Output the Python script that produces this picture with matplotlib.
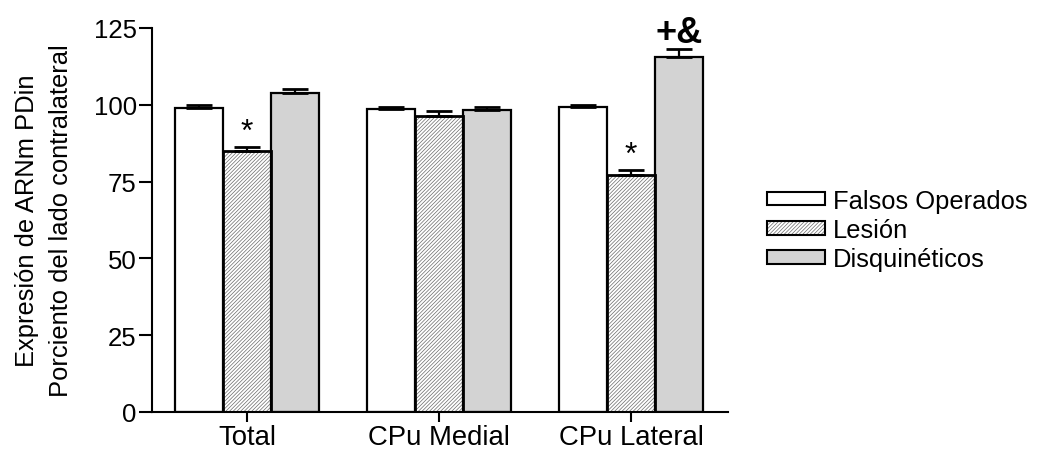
import matplotlib
matplotlib.use("Agg")
import matplotlib.pyplot as plt
from matplotlib.patches import Patch
from matplotlib.legend_handler import HandlerTuple
import numpy as np

plt.rcParams['font.family'] = ['Liberation Sans', 'DejaVu Sans']
plt.rcParams['hatch.linewidth'] = 0.5

categories = ["Total", "CPu Medial", "CPu Lateral"]
series_names = ["Falsos Operados", "Lesión", "Disquinéticos"]
falsos = [99.0, 98.6, 99.4]
falsos_err = [0.8, 0.8, 0.6]
lesion = [85.1, 96.5, 77.1]
lesion_err = [1.3, 1.5, 1.8]
disq = [103.8, 98.3, 115.4]
disq_err = [1.3, 1.1, 2.7]
y_ticks = [0, 25, 50, 75, 100, 125]
ylabel = "Expresión de ARNm PDin\nPorciento del lado contralateral"
lesion_marks = ["*", "", "*"]
disq_marks = ["", "", "+&"]

W, H = 1042, 452
fig = plt.figure(figsize=(W / 100, H / 100), dpi=100)
ax = fig.add_axes([152 / W, 1 - 413 / H, (728 - 152) / W, (413 - 29) / H])

x = np.arange(len(categories))
bw = 0.25
hatch_gray = "#6a6a6a"
hatch_pat = "/////////"
edge_lw = 1.6

ax.bar(x - bw, falsos, bw, color="white", edgecolor="black", linewidth=edge_lw, zorder=2)
ax.bar(x, lesion, bw, color="white", edgecolor=hatch_gray, hatch=hatch_pat, linewidth=0, zorder=2)
ax.bar(x, lesion, bw, fill=False, edgecolor="black", linewidth=2.0, zorder=3)
ax.bar(x + bw, disq, bw, color="#d3d3d3", edgecolor="black", linewidth=edge_lw, zorder=2)

for off, vals, errs in [(-bw, falsos, falsos_err), (0, lesion, lesion_err), (bw, disq, disq_err)]:
    ax.errorbar(x + off, vals, yerr=[np.zeros(len(vals)), errs], fmt="none", ecolor="black",
                elinewidth=1.6, capsize=9.4, capthick=2.0, zorder=4)

for xi, v, e, m in zip(x, lesion, lesion_err, lesion_marks):
    if m:
        ax.annotate(m, (xi, v + e), xytext=(0, 4.5), textcoords="offset points",
                    ha="center", va="baseline", fontsize=23)
for xi, v, e, m in zip(x, disq, disq_err, disq_marks):
    if m:
        ax.annotate(m, (xi + bw, v + e), xytext=(0, 5.0), textcoords="offset points",
                    ha="center", va="baseline", fontsize=26, fontweight="bold")

ax.set_xlim(-0.495, 2.505)
ax.set_ylim(0, 125)
ax.set_yticks(y_ticks)
ax.set_xticks(x)
ax.set_xticklabels(categories, fontsize=19.8)
ax.tick_params(axis="y", labelsize=18.5, length=9.4, width=1.5, pad=1.5)
ax.tick_params(axis="x", length=7, width=1.5, pad=1.5)
for s in ["top", "right"]:
    ax.spines[s].set_visible(False)
for s in ["left", "bottom"]:
    ax.spines[s].set_linewidth(1.5)
ax.set_ylabel(ylabel, fontsize=18.4, labelpad=15, linespacing=1.5)

h1 = Patch(facecolor="white", edgecolor="black", linewidth=1.5)
h2a = Patch(facecolor="white", edgecolor=hatch_gray, hatch=hatch_pat, linewidth=0)
h2b = Patch(fill=False, edgecolor="black", linewidth=1.5)
h3 = Patch(facecolor="#d3d3d3", edgecolor="black", linewidth=1.5)
fig.legend([h1, (h2a, h2b), h3], series_names, loc="center left",
           bbox_to_anchor=(767 / W, 1 - 231 / H), bbox_transform=fig.transFigure,
           frameon=False, fontsize=18.4, handlelength=2.27, handleheight=0.43,
           handletextpad=0.3, labelspacing=0.2, borderpad=0, borderaxespad=0,
           handler_map={tuple: HandlerTuple(ndivide=1)})

fig.savefig("out.png", dpi=100)
